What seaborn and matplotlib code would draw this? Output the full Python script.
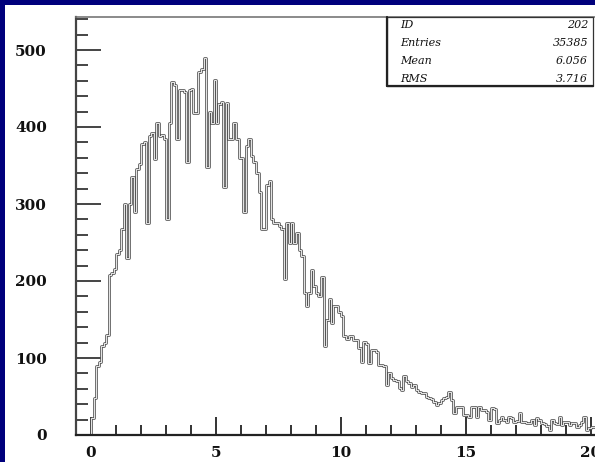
import numpy as np
import pandas as pd
import seaborn as sns
import matplotlib
matplotlib.use("Agg")
import matplotlib.pyplot as plt
from matplotlib.ticker import MultipleLocator
from matplotlib.patches import Rectangle
from matplotlib.lines import Line2D

# ---------------- data ----------------
bin_width = 0.1
counts = [
    22, 48, 90, 95, 115, 120, 130, 208, 210, 215,
    235, 240, 268, 300, 230, 300, 335, 290, 345, 352,
    378, 380, 275, 388, 392, 358, 405, 388, 390, 385,
    280, 405, 458, 455, 385, 448, 448, 445, 355, 448,
    450, 418, 418, 472, 475, 489, 348, 420, 405, 461,
    405, 430, 433, 322, 431, 385, 385, 405, 385, 360,
    360, 290, 375, 385, 362, 355, 340, 315, 268, 268,
    325, 330, 280, 275, 275, 272, 268, 202, 275, 250,
    275, 250, 262, 240, 232, 184, 167, 185, 214, 193,
    185, 180, 205, 115, 150, 177, 145, 167, 167, 160,
    154, 128, 125, 128, 128, 123, 123, 113, 95, 121,
    118, 93, 110, 110, 108, 91, 91, 89, 65, 80,
    74, 72, 70, 61, 58, 76, 70, 68, 62, 65,
    58, 56, 54, 54, 50, 48, 47, 43, 39, 42,
    45, 48, 50, 56, 46, 28, 37, 37, 37, 26,
    26, 24, 37, 37, 24, 37, 32, 33, 30, 20,
    35, 34, 15, 19, 24, 20, 17, 24, 22, 17,
    18, 28, 17, 17, 16, 15, 19, 13, 22, 20,
    15, 14, 12, 6, 19, 15, 14, 24, 13, 17,
    17, 13, 15, 15, 11, 13, 17, 24, 6, 9,
    11, 11,
]
x_major_ticks = [0, 5, 10, 15, 20]
y_major_ticks = [0, 100, 200, 300, 400, 500]
stats_labels = ["ID", "Entries", "Mean", "RMS"]
stats_values = ["202", "35385", "6.056", "3.716"]

# ---------------- figure ----------------
sns.set_style("white")
plt.rcParams["font.family"] = ["DejaVu Serif"]

W, H = 595, 462
fig = plt.figure(figsize=(W / 100, H / 100), dpi=100, facecolor="#00007c")
fig.add_artist(Rectangle((5 / W, 0), 1, (H - 5) / H, transform=fig.transFigure,
                         facecolor="white", edgecolor="none", zorder=0))

ax_left, ax_bottom, ax_top = 76, 435, 17
ax = fig.add_axes([ax_left / W, (H - ax_bottom) / H, 520 / W, (ax_bottom - ax_top) / H])
ax.set_facecolor("white")

n = len(counts)
centers = np.round(np.arange(n) * bin_width + bin_width / 2, 3)
edges = [float(e) for e in np.round(np.arange(-1, n + 1) * bin_width, 3)]
df = pd.DataFrame({"x": centers, "count": counts})

sns.histplot(data=df, x="x", weights="count", bins=edges, element="step",
             fill=False, color="#555555", linewidth=1.9, ax=ax)
sns.histplot(data=df, x="x", weights="count", bins=edges, element="step",
             fill=False, color="white", linewidth=0.6, ax=ax)

ax.set_xlim(-0.6, 20.2)
ax.set_ylim(0, (ax_bottom - ax_top) / 0.77)
ax.set_xlabel("")
ax.set_ylabel("")

ax.set_xticks(x_major_ticks)
ax.set_xticklabels([str(v) for v in x_major_ticks])
ax.set_yticks(y_major_ticks)
ax.set_yticklabels([str(v) for v in y_major_ticks])
ax.xaxis.set_minor_locator(MultipleLocator(1))
ax.yaxis.set_minor_locator(MultipleLocator(20))

ax.tick_params(axis="both", which="both", left=True, bottom=True,
               top=False, right=False)
ax.tick_params(axis="y", which="major", direction="in", length=18, width=1.4,
               color="#444444", pad=21, labelsize=11)
ax.tick_params(axis="y", which="minor", direction="in", length=8.6, width=1.4,
               color="#444444")
ax.tick_params(axis="x", which="major", direction="in", length=13, width=1.4,
               color="#333333", pad=8, labelsize=11)
ax.tick_params(axis="x", which="minor", direction="in", length=7, width=1.4,
               color="#333333")
for lab in ax.get_xticklabels() + ax.get_yticklabels():
    lab.set_fontweight("bold")
    lab.set_color("#111111")

ax.spines["left"].set_color("#444444")
ax.spines["left"].set_linewidth(1.6)
ax.spines["bottom"].set_color("#222222")
ax.spines["bottom"].set_linewidth(1.6)
ax.spines["top"].set_color("#777777")
ax.spines["top"].set_linewidth(1.2)
ax.spines["right"].set_visible(False)

# ---------------- statistics box ----------------
bx0, bx1, by0, by1 = 387, 593, 17, 86
fig.add_artist(Rectangle((bx0 / W, (H - by1) / H), (bx1 - bx0) / W, (by1 - by0) / H,
                         transform=fig.transFigure, facecolor="white",
                         edgecolor="#333333", linewidth=0.9, zorder=5))
fig.add_artist(Line2D([bx0 / W, bx0 / W], [(H - by1) / H, (H - by0) / H],
                      transform=fig.transFigure, color="#222222", linewidth=1.6, zorder=6))
fig.add_artist(Line2D([bx0 / W, bx1 / W], [(H - by1) / H, (H - by1) / H],
                      transform=fig.transFigure, color="#222222", linewidth=1.6, zorder=6))
row_y = [25, 43, 61.5, 79.5]
for lab, val, yy in zip(stats_labels, stats_values, row_y):
    fig.text(400 / W, (H - yy) / H, lab, ha="left", va="center", fontsize=8,
             style="italic", color="#111111", zorder=7)
    fig.text(588 / W, (H - yy) / H, val, ha="right", va="center", fontsize=8,
             style="italic", color="#111111", zorder=7)

fig.savefig("out.png", dpi=100, facecolor=fig.get_facecolor())
